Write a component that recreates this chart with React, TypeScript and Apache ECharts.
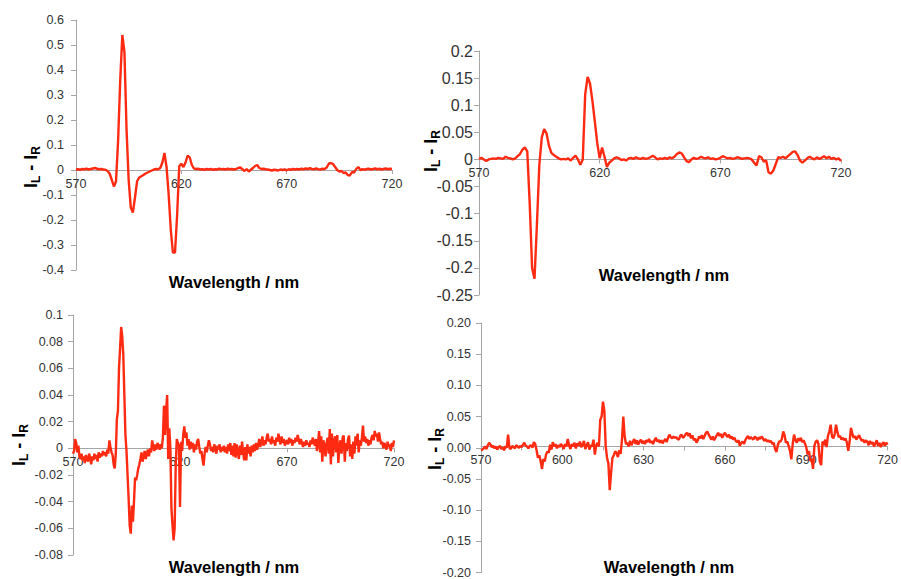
import React, { useEffect, useRef } from "react";
import * as echarts from "echarts";

// Wavelength sampling (nm)
const WL_START = 570;
const WL_END = 720;
const STEP_A = 1; // panels 1, 2
const STEP_B = 0.5; // panels 3, 4

// Panel 1 (top-left): IL - IR, 570..720 nm, 1 nm step
const panel1Values = [
  0.002, 0.003, 0.001, 0.004, 0.003, 0.005, 0.002, 0.004, 0.006, 0.008,
  0.005, 0.003, 0.004, 0.002, 0.001, -0.004, -0.015, -0.04, -0.066, -0.045,
  0.12, 0.36, 0.54, 0.47, 0.16, -0.04, -0.15, -0.17, -0.11, -0.045,
  -0.03, -0.025, -0.02, -0.014, -0.01, -0.006, -0.002, 0.002, 0.004, 0.003,
  0.008, 0.03, 0.068, 0.01, -0.1, -0.24, -0.33, -0.33, -0.18, 0.015,
  0.025, 0.012, 0.03, 0.058, 0.05, 0.02, 0.006, 0.004, 0.005, 0.002,
  0.003, 0.001, 0.004, 0.002, 0.004, 0.001, 0.003, 0.002, 0.005, 0.003,
  0.004, 0.002, 0.005, 0.003, 0.004, 0.002, 0.004, 0.008, 0.01, 0.003,
  -0.004, 0.004, -0.006, 0.001, 0.008, 0.016, 0.02, 0.008, 0.004, 0.005,
  0.003, 0.002, 0.0, -0.002, 0.001, 0.0, -0.002, 0.002, 0.0, 0.002,
  -0.001, 0.003, 0.001, 0.004, 0.002, 0.004, 0.002, 0.005, 0.003, 0.006,
  0.004, 0.007, 0.004, 0.003, 0.006, 0.003, 0.002, 0.005, 0.004, 0.01,
  0.025, 0.028, 0.024, 0.012, 0.0, -0.006, -0.004, -0.012, -0.01, -0.02,
  -0.022, -0.008, -0.01, 0.004, 0.012, 0.0, 0.003, 0.001, 0.004, 0.005,
  0.002, 0.004, 0.006, 0.003, 0.005, 0.002, 0.004, 0.006, 0.003, 0.005,
  0.004,
];

// Panel 2 (top-right): 570..720 nm, 1 nm step
const panel2Values = [
  0.001, 0.003, 0.0, -0.003, 0.0, 0.001, 0.002, 0.001, 0.003, 0.002,
  0.001, 0.005, 0.003, 0.002, 0.0, 0.002, 0.006, 0.01, 0.018, 0.022,
  0.015, -0.08, -0.2, -0.22, -0.12, -0.01, 0.04, 0.056, 0.048, 0.025,
  0.012, 0.008, 0.005, 0.002, 0.0, 0.001, 0.0, 0.002, -0.002, 0.003,
  0.007, 0.0, -0.01, 0.0, 0.12, 0.152, 0.14, 0.108, 0.07, 0.03,
  0.002, 0.022, 0.005, -0.014, -0.006, -0.002, 0.002, 0.004, 0.002, -0.001,
  0.0, -0.002, 0.002, 0.003, 0.001, 0.004, 0.002, 0.001, 0.003, 0.001,
  0.002, 0.004, 0.007, 0.004, 0.0, 0.002, 0.001, 0.003, 0.001, 0.004,
  0.002, 0.005, 0.01, 0.013, 0.011, 0.004, -0.003, -0.005, 0.0, 0.003,
  0.001, 0.002, 0.005, 0.003, 0.002, 0.004, 0.001, 0.002, 0.0, 0.001,
  0.003, 0.006, 0.004, 0.002, 0.003, 0.001, 0.002, 0.004, 0.003, 0.001,
  0.002, 0.003, 0.002, 0.0, -0.006, -0.011, 0.006, 0.004, -0.004, -0.002,
  -0.024, -0.026, -0.02, -0.008, 0.004, 0.003, 0.005, 0.002, 0.006, 0.01,
  0.014, 0.015, 0.008, -0.002, -0.006, -0.002, 0.002, 0.005, 0.002, 0.0,
  0.004, 0.001, 0.003, 0.006, 0.002, 0.005, 0.001, 0.003, 0.0, 0.002,
  -0.003,
];

// Panel 3 (bottom-left): 570..720 nm, 0.5 nm step
const panel3Values = [
  -0.004, -0.002, 0.007, 0.004, -0.003, 0.002, -0.006, -0.008, -0.004, -0.009,
  -0.006, -0.011, -0.005, -0.008, -0.01, -0.004, -0.007, -0.012, -0.006, -0.009,
  -0.004, -0.008, -0.005, -0.01, -0.003, -0.007, -0.004, -0.006, -0.002, -0.005,
  -0.003, -0.006, -0.001, -0.004, 0.006, 0.001, -0.003, -0.005, -0.012, -0.015,
  -0.004, 0.022, 0.028, 0.06, 0.075, 0.091, 0.084, 0.07, 0.04, 0.01,
  -0.002, -0.02, -0.038, -0.058, -0.064, -0.043, -0.055, -0.04, -0.022, -0.024,
  -0.02, -0.015, -0.012, -0.008, -0.003, -0.01, -0.006, -0.002, -0.008, -0.004,
  -0.001, -0.006, 0.0, -0.003, 0.006, 0.001, -0.002, 0.003, -0.001, 0.004,
  0.002, -0.001, 0.003, 0.0, 0.008, 0.032, 0.01, 0.028, 0.04, -0.008,
  0.015, 0.0, -0.045, -0.058, -0.069, -0.06, -0.013, 0.007, 0.004, 0.002,
  -0.044, 0.005, -0.002, 0.01, 0.0165, 0.008, 0.012, 0.002, 0.007, -0.001,
  0.005, 0.0, 0.004, -0.003, 0.003, -0.001, 0.005, 0.007, 0.001, -0.004,
  -0.002, -0.008, -0.013, -0.004, 0.001, -0.003, 0.002, 0.006, 0.003, -0.002,
  0.001, -0.003, 0.003, 0.0, -0.004, 0.002, -0.001, 0.003, -0.003, 0.001,
  -0.002, 0.002, -0.003, 0.001, -0.004, 0.003, -0.002, 0.004, -0.005, 0.002,
  -0.006, 0.004, -0.007, 0.003, -0.002, -0.008, 0.002, -0.005, 0.005, -0.003,
  -0.009, 0.001, -0.009, 0.003, -0.004, 0.001, -0.006, 0.002, -0.003, 0.003,
  -0.002, 0.004, -0.001, 0.002, 0.007, 0.001, 0.004, 0.009, 0.002, 0.006,
  0.003, 0.008, 0.011, 0.005, 0.007, 0.003, 0.009, 0.004, 0.006, 0.002,
  0.008, 0.005, 0.011, 0.006, 0.003, 0.009, 0.004, 0.007, 0.002, 0.005,
  0.006, 0.003, 0.008, 0.004, 0.007, 0.002, 0.006, 0.004, 0.008, 0.005,
  0.01, 0.006, 0.003, 0.007, 0.004, 0.001, 0.005, 0.002, 0.006, 0.003,
  0.004, 0.001, 0.006, 0.003, 0.008, 0.005, 0.002, 0.007, -0.002, 0.004,
  0.013, -0.003, 0.009, -0.01, 0.006, 0.002, -0.006, 0.004, 0.008, -0.004,
  0.0145, -0.012, 0.011, -0.006, 0.005, 0.009, -0.003, 0.01, -0.011, 0.002,
  0.006, -0.004, 0.008, 0.0095, -0.01, 0.004, -0.002, 0.007, 0.0095, -0.006,
  0.003, -0.008, 0.005, -0.004, 0.009, 0.002, 0.011, -0.003, 0.006, 0.002,
  0.008, 0.017, 0.005, 0.009, 0.004, 0.007, 0.002, 0.006, 0.003, 0.008,
  0.01, 0.006, 0.013, 0.009, 0.011, 0.005, 0.012, 0.007, 0.003, 0.005,
  0.0, 0.004, 0.002, -0.001, 0.005, 0.001, 0.003, -0.002, 0.004, 0.001,
  0.006,
];

// Panel 4 (bottom-right): 570..720 nm, 0.5 nm step
const panel4Values = [
  -0.004, -0.003, -0.001, 0.002, -0.002, 0.004, 0.008, 0.005, 0.001, 0.003,
  -0.001, 0.002, -0.003, 0.001, 0.003, -0.002, 0.001, -0.004, 0.002, 0.0,
  0.021, 0.0, -0.002, 0.003, 0.001, -0.001, 0.004, 0.002, 0.0, 0.003,
  0.001, 0.005, 0.008, 0.003, 0.002, -0.001, 0.003, 0.004, 0.0, 0.009,
  0.006, -0.004, -0.016, -0.012, -0.021, -0.034, -0.018, -0.022, -0.011, -0.006,
  -0.008, 0.005, -0.003, 0.009, 0.002, 0.006, -0.001, 0.004, 0.001, 0.006,
  0.003, -0.002, 0.006, 0.002, 0.014, 0.004, -0.002, 0.006, 0.002, 0.008,
  -0.001, 0.007, 0.003, 0.01, 0.001, 0.005, 0.011, -0.002, 0.004, 0.009,
  -0.003, 0.004, 0.002, 0.013, -0.011, 0.004, 0.008, 0.002, 0.045, 0.05,
  0.074, 0.06, 0.003, -0.016, -0.025, -0.068, -0.04, -0.016, -0.012, -0.006,
  -0.008, -0.015, -0.004, -0.01, 0.012, 0.05, 0.018, 0.006, 0.008, 0.002,
  0.011, 0.004, 0.009, 0.014, 0.006, 0.012, 0.005, 0.01, 0.013, 0.007,
  0.011, 0.006, 0.012, 0.009, 0.014, 0.008, 0.011, 0.006, 0.012, 0.016,
  0.01, 0.013, 0.008, 0.012, 0.007, 0.011, 0.014, 0.009, 0.016, 0.021,
  0.017, 0.015, 0.018, 0.016, 0.017, 0.014, 0.013, 0.019, 0.021, 0.016,
  0.018, 0.022, 0.024, 0.019, 0.023, 0.015, 0.02, 0.012, 0.015, 0.008,
  0.012, 0.018, 0.015, 0.02, 0.014, 0.019, 0.024, 0.026, 0.021, 0.017,
  0.013, 0.018, 0.012, 0.016, 0.02, 0.024, 0.019, 0.022, 0.016, 0.021,
  0.024, 0.02, 0.017, 0.021, 0.015, 0.018, 0.013, 0.016, 0.011, 0.009,
  0.012, 0.003, 0.008, 0.01, 0.006, 0.012, 0.016, 0.019, 0.014, 0.017,
  0.015, 0.013, 0.018, 0.016, 0.012, 0.017, 0.014, 0.018, 0.015, 0.011,
  0.014, 0.01, 0.012, 0.009, 0.011, 0.006, 0.008, -0.002, -0.007, 0.004,
  0.01, 0.01, 0.014, 0.026, 0.02, 0.008, 0.01, 0.003, -0.005, -0.0185,
  0.006, 0.021, 0.012, 0.008, 0.015, 0.011, 0.016, 0.009, 0.012, 0.007,
  0.001, -0.011, -0.005, -0.021, -0.018, -0.034, 0.003, 0.01, 0.012, 0.006,
  -0.022, -0.028, 0.01, 0.004, 0.013, 0.001, 0.019, 0.026, 0.037, 0.018,
  0.015, 0.022, 0.037, 0.025, 0.017, 0.019, 0.013, 0.016, 0.012, 0.015,
  0.008, -0.005, 0.01, 0.032, 0.022, 0.016, 0.019, 0.013, 0.017, 0.02,
  0.015, 0.011, 0.013, 0.008, 0.012, 0.01, 0.004, 0.011, 0.006, 0.009,
  0.002, 0.007, 0.012, 0.003, 0.008, 0.001, 0.006, 0.009, 0.003, 0.008,
  0.005,
];

// Axis settings per panel (tick values)
const yRanges = [
  { min: -0.4, max: 0.6, interval: 0.1, decimals: -1 },
  { min: -0.25, max: 0.2, interval: 0.05, decimals: -1 },
  { min: -0.08, max: 0.1, interval: 0.02, decimals: -1 },
  { min: -0.2, max: 0.2, interval: 0.05, decimals: 2 },
];
const xIntervals = [50, 50, 50, 15];
const xLabelEvery = [50, 50, 50, 30];

const xTitle = "Wavelength / nm";

const LINE_COLOR = "#ff2a12";
const AXIS_COLOR = "#a6a6a6";
const LABEL_COLOR = "#333333";
const FONT = "'Liberation Sans', Arial, sans-serif";

function toPairs(values: number[], step: number) {
  return values.map((v, i) => [WL_START + i * step, v]);
}

export default function App() {
  const ref = useRef<HTMLDivElement>(null);

  useEffect(() => {
    if (!ref.current) return;
    const chart = echarts.init(ref.current, undefined, { renderer: "svg" });

    const grids = [
      { left: 76, top: 20, width: 316, height: 250 },
      { left: 479, top: 51, width: 362, height: 244 },
      { left: 73, top: 315, width: 321, height: 240 },
      { left: 481, top: 323, width: 410, height: 252 },
    ];
    const yLabelFont = [12.5, 16, 12.5, 12.5];
    const yLabelMargin = [12, 6, 10, 10];

    const seriesData = [
      toPairs(panel1Values, STEP_A),
      toPairs(panel2Values, STEP_A),
      toPairs(panel3Values, STEP_B),
      toPairs(panel4Values, STEP_B),
    ];

    // x axis sits on y = 0: shift it up from the grid bottom by the zero's distance
    const xAxes = grids.map((g, i) => {
      const r = yRanges[i];
      const zeroFromBottom = (g.height * (0 - r.min)) / (r.max - r.min);
      return {
        type: "value",
        gridIndex: i,
        position: "bottom",
        offset: -zeroFromBottom,
        min: WL_START,
        max: WL_END,
        interval: xIntervals[i],
        splitLine: { show: false },
        axisLine: { onZero: false, lineStyle: { color: AXIS_COLOR, width: 1 } },
        axisTick: { show: true, length: 4, lineStyle: { color: AXIS_COLOR } },
        axisLabel: {
          color: LABEL_COLOR,
          fontSize: 12.5,
          fontFamily: FONT,
          margin: 7,
          showMinLabel: true,
          showMaxLabel: true,
          hideOverlap: false,
          formatter: (v: number) =>
            (v - WL_START) % xLabelEvery[i] !== 0 ? "" : String(v),
        },
      };
    });

    const yAxes = yRanges.map((r, i) => ({
      type: "value",
      gridIndex: i,
      min: r.min,
      max: r.max,
      interval: r.interval,
      splitLine: { show: false },
      axisLine: { show: true, onZero: false, lineStyle: { color: AXIS_COLOR, width: 1 } },
      axisTick: { show: true, length: 5, lineStyle: { color: AXIS_COLOR } },
      axisLabel: {
        color: LABEL_COLOR,
        fontSize: yLabelFont[i],
        fontFamily: FONT,
        margin: yLabelMargin[i],
        formatter: (v: number) =>
          r.decimals >= 0
            ? v.toFixed(r.decimals)
            : String(Number(v.toFixed(3))),
      },
    }));

    const series = seriesData.map((d, i) => ({
      type: "line",
      xAxisIndex: i,
      yAxisIndex: i,
      data: d,
      showSymbol: false,
      symbol: "none",
      lineStyle: { color: LINE_COLOR, width: 2.4 },
      silent: true,
    }));

    const xTitlePos = [
      [234, 282],
      [664, 275],
      [234, 567],
      [669, 567],
    ];
    const yTitlePos = [
      [31, 167],
      [431, 151],
      [19, 445],
      [435, 449],
    ];

    const rich = {
      i: { fontSize: 18, fontWeight: "bold", fontFamily: FONT, color: "#000", lineHeight: 22, verticalAlign: "middle" },
      s: { fontSize: 12, fontWeight: "bold", fontFamily: FONT, color: "#000", lineHeight: 12, verticalAlign: "bottom" },
    };

    const graphic: any[] = [];
    xTitlePos.forEach(([x, y]) => {
      graphic.push({
        type: "text",
        x,
        y,
        silent: true,
        style: {
          text: xTitle,
          fontSize: 16.5,
          fontWeight: "bold",
          fontFamily: FONT,
          fill: "#000",
          align: "center",
          verticalAlign: "middle",
        },
      });
    });
    yTitlePos.forEach(([x, y]) => {
      graphic.push({
        type: "text",
        x,
        y,
        rotation: Math.PI / 2,
        silent: true,
        style: {
          text: "{i|I}{s|L}{i| - I}{s|R}",
          rich,
          align: "center",
          verticalAlign: "middle",
        },
      });
    });

    chart.setOption({
      animation: false,
      backgroundColor: "#ffffff",
      grid: grids,
      xAxis: xAxes,
      yAxis: yAxes,
      series,
      graphic,
    } as any);

    return () => chart.dispose();
  }, []);

  return (
    <div
      ref={ref}
      style={{ position: "fixed", left: 0, top: 0, width: 901, height: 579 }}
    />
  );
}
